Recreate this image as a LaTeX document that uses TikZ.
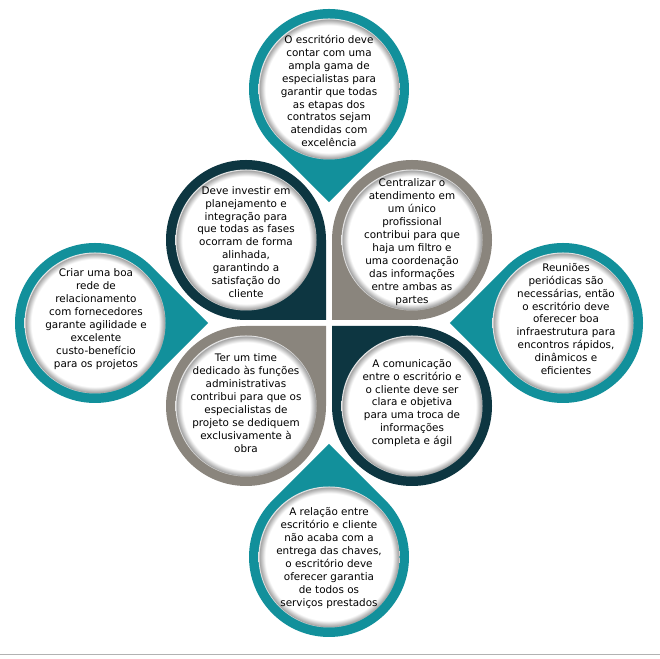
\documentclass[tikz,border=0pt]{standalone}
\usepackage{fontspec}
\setmainfont{DejaVu Sans}
\definecolor{tealA}{HTML}{12909B}
\definecolor{darkA}{HTML}{0D3641}
\definecolor{grayA}{HTML}{8A857D}
\pgfdeclareradialshading{discshade}{\pgfpoint{0bp}{0bp}}{color(0bp)=(white); color(22.6bp)=(white); color(24.2bp)=(black!28); color(24.7bp)=(black!36); color(25bp)=(black!10); color(50bp)=(black!10)}
\newcommand\mytear[3]{%
  \fill[#1] (#2) ++(#3+45:80) arc[start angle=#3+45, end angle=#3+315, radius=80] -- ++(#3+45:80) -- cycle;
  \shade[shading=discshade] (#2) circle[radius=70.5];
}
\begin{document}
\begin{tikzpicture}[x=0.75pt,y=0.75pt,
  txt/.style={font=\fontsize{7.8}{9.7}\selectfont, align=center, text=black, inner sep=0pt}]
\useasboundingbox (0,0) rectangle (660,659);
\fill[white] (0,0) rectangle (660,659);
\draw[black!30, line width=1.2] (0,4.5) -- (660,4.5);
% inner four
\mytear{darkA}{246,419}{-45}
\mytear{grayA}{412,419}{-135}
\mytear{grayA}{246,253}{45}
\mytear{darkA}{412,253}{135}
% outer four
\mytear{tealA}{329,570}{-90}
\mytear{tealA}{329,102}{90}
\mytear{tealA}{95,336}{0}
\mytear{tealA}{563,336}{180}
% texts
\node[txt] (ttop) at (329,568) {O escritório deve\\contar com uma\\ampla gama de\\especialistas para\\garantir que todas\\as etapas dos\\contratos sejam\\atendidas com\\excelência};
\node[txt] (tbottom) at (329,101) {A relação entre\\escritório e cliente\\não acaba com a\\entrega das chaves,\\o escritório deve\\oferecer garantia\\de todos os\\serviços prestados};
\node[txt] (tleft) at (96,340) {Criar uma boa\\rede de\\relacionamento\\com fornecedores\\garante agilidade e\\excelente\\custo-benefício\\para os projetos};
\node[txt] (tright) at (566,340) {Reuniões\\periódicas são\\necessárias, então\\o escritório deve\\oferecer boa\\infraestrutura para\\encontros rápidos,\\dinâmicos e\\eficientes};
\node[txt] (ttl) at (246,417) {Deve investir em\\planejamento e\\integração para\\que todas as fases\\ocorram de forma\\alinhada,\\garantindo a\\satisfação do\\cliente};
\node[txt] (ttr) at (412,417) {Centralizar o\\atendimento em\\um único\\profissional\\contribui para que\\haja um filtro e\\uma coordenação\\das informações\\entre ambas as\\partes};
\node[txt] (tbl) at (246,256) {Ter um time\\dedicado às funções\\administrativas\\contribui para que os\\especialistas de\\projeto se dediquem\\exclusivamente à\\obra};
\node[txt] (tbr) at (412,256) {A comunicação\\entre o escritório e\\o cliente deve ser\\clara e objetiva\\para uma troca de\\informações\\completa e ágil};
\end{tikzpicture}
\end{document}
